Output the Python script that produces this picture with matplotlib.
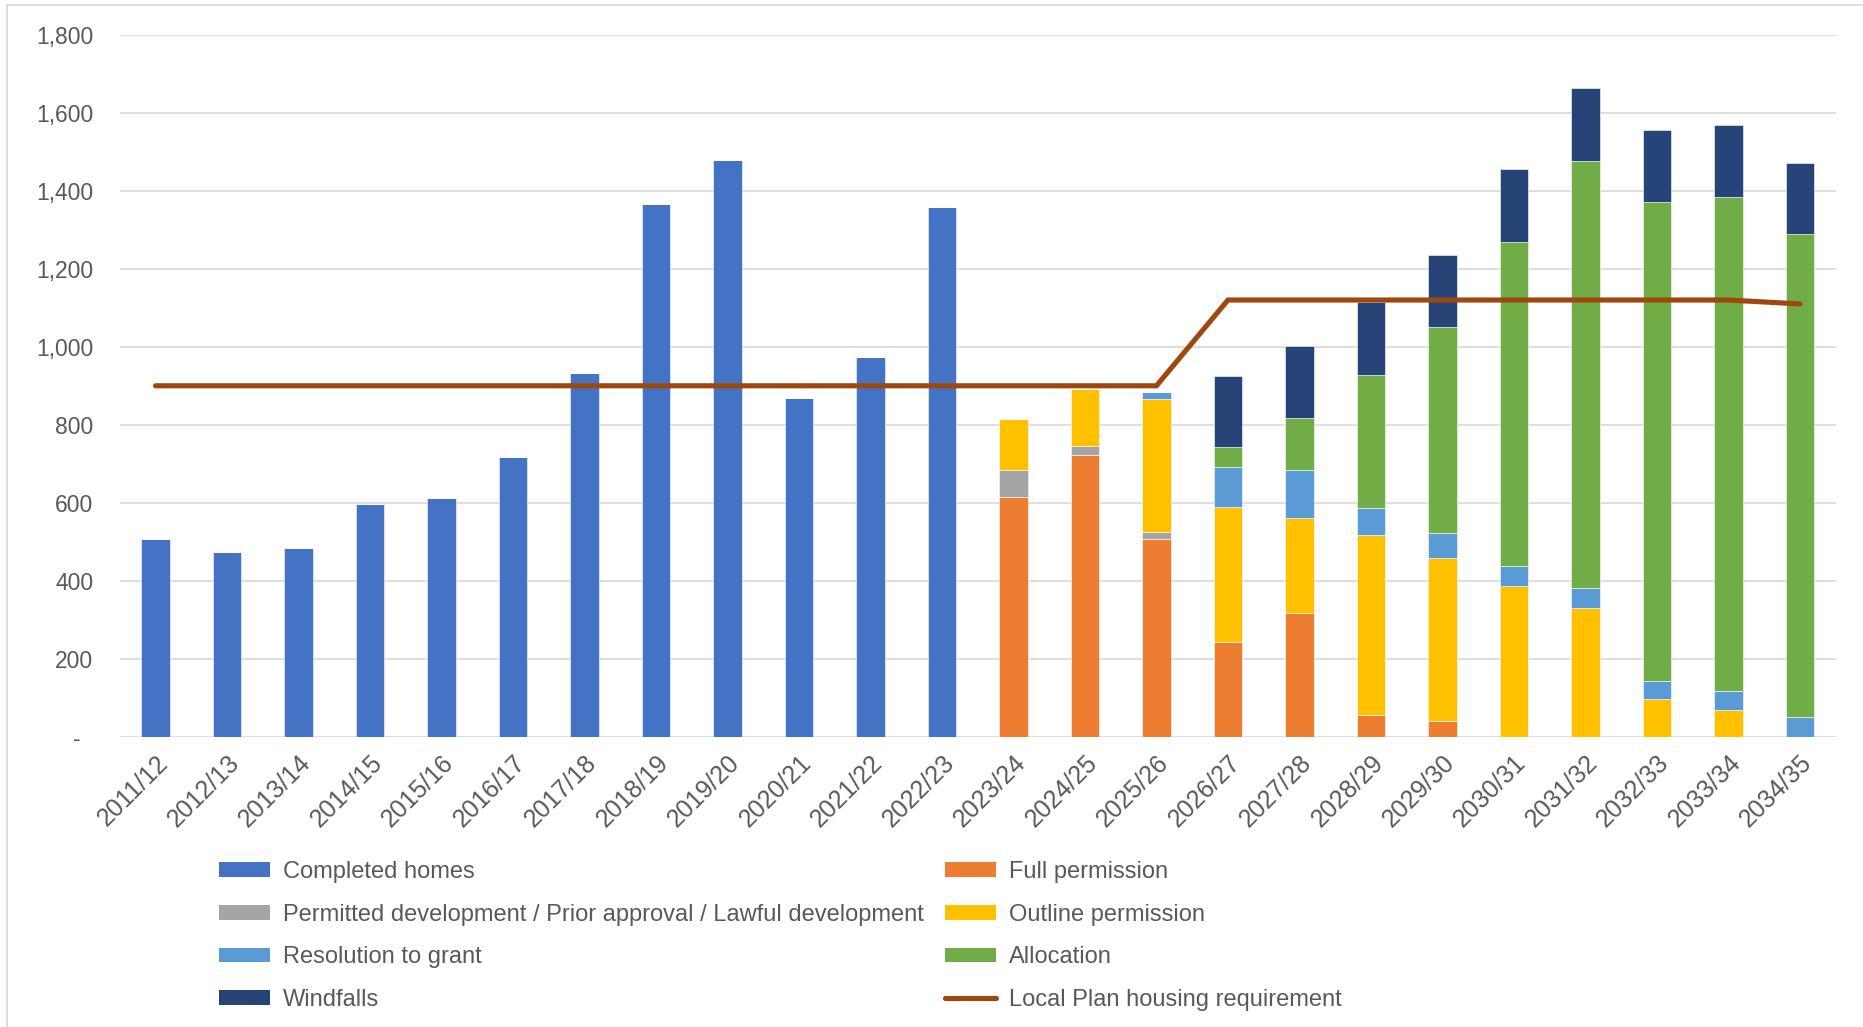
import matplotlib
matplotlib.use("Agg")
import matplotlib.pyplot as plt
from matplotlib.lines import Line2D
from matplotlib.patches import Patch
from matplotlib.ticker import FuncFormatter
import numpy as np

plt.rcParams["font.family"] = ["Liberation Sans", "DejaVu Sans"]

years = ["2011/12", "2012/13", "2013/14", "2014/15", "2015/16", "2016/17",
         "2017/18", "2018/19", "2019/20", "2020/21", "2021/22", "2022/23",
         "2023/24", "2024/25", "2025/26", "2026/27", "2027/28", "2028/29",
         "2029/30", "2030/31", "2031/32", "2032/33", "2033/34", "2034/35"]

completed = [506, 474, 483, 596, 611, 717, 932, 1367, 1480, 868, 975, 1358,
             0, 0, 0, 0, 0, 0, 0, 0, 0, 0, 0, 0]
full_perm = [0] * 12 + [615, 722, 506, 244, 318, 55, 40, 0, 0, 0, 0, 0]
permitted = [0] * 12 + [70, 24, 19, 0, 0, 0, 0, 0, 0, 0, 0, 0]
outline = [0] * 12 + [131, 146, 340, 344, 242, 463, 418, 387, 331, 96, 68, 0]
resolution = [0] * 12 + [0, 0, 19, 104, 123, 68, 65, 50, 51, 48, 49, 50]
allocation = [0] * 12 + [0, 0, 0, 50, 134, 341, 528, 832, 1095, 1227, 1267, 1240]
windfalls = [0] * 12 + [0, 0, 0, 184, 185, 188, 184, 186, 186, 185, 184, 182]
requirement = [900] * 15 + [1120] * 8 + [1110]

series = [
    ("Completed homes", completed, "#4472C4"),
    ("Full permission", full_perm, "#ED7D31"),
    ("Permitted development / Prior approval / Lawful development", permitted, "#A5A5A5"),
    ("Outline permission", outline, "#FFC000"),
    ("Resolution to grant", resolution, "#5B9BD5"),
    ("Allocation", allocation, "#70AD47"),
    ("Windfalls", windfalls, "#264478"),
]
LINE_C = "#9E480E"
TXT = "#595959"

fig = plt.figure(figsize=(18.63, 10.27), dpi=100)
ax = fig.add_axes([0.0643, 0.2827, 0.921, 0.6833])

x = np.arange(len(years))
base = np.zeros(len(years))
handles = {}
for label, vals, c in series:
    v = np.array(vals, dtype=float)
    ax.bar(x, v, width=0.40, bottom=base, color=c, edgecolor="white",
           linewidth=0.4, zorder=2)
    base += v
    handles[label] = Patch(facecolor=c, label=label)

ax.plot(x, requirement, color=LINE_C, linewidth=3.7, solid_capstyle="round",
        solid_joinstyle="miter", zorder=3)
handles["line"] = Line2D([], [], color=LINE_C, linewidth=3.7,
                         solid_capstyle="round", label="Local Plan housing requirement")

ax.set_xlim(-0.5, len(years) - 0.5)
ax.set_ylim(0, 1800)
ax.set_yticks(range(0, 1801, 200))
ax.yaxis.set_major_formatter(FuncFormatter(lambda v, p: "-  " if v == 0 else f"{v:,.0f}"))
ax.grid(axis="y", color="#d9d9d9", linewidth=1.2)
ax.set_axisbelow(True)
for s in ax.spines.values():
    s.set_visible(False)
ax.tick_params(axis="y", length=0, pad=19, labelsize=16.5, labelcolor=TXT)
ax.tick_params(axis="x", length=0, pad=10, labelsize=18, labelcolor=TXT)
ax.set_xticks(x)
ax.set_xticklabels(years, rotation=45, ha="right", va="top", rotation_mode="anchor")

order = ["Completed homes",
         "Permitted development / Prior approval / Lawful development",
         "Resolution to grant", "Windfalls",
         "Full permission", "Outline permission", "Allocation", "line"]
fig.legend(handles=[handles[k] for k in order], loc="upper left",
           bbox_to_anchor=(0.1174, 0.1614), ncol=2, frameon=False, fontsize=17,
           labelcolor=TXT, handlelength=2.16, handleheight=0.6, handletextpad=0.55,
           columnspacing=0.91, labelspacing=0.87, borderpad=0, borderaxespad=0)

# chart-area border (cropped in the source)
fig.add_artist(Line2D([0.0035, 0.0035], [0, 0.995], color="#d9d9d9", linewidth=1.2))
fig.add_artist(Line2D([0.0035, 1.0], [0.995, 0.995], color="#d9d9d9", linewidth=1.2))

fig.savefig("out.png", dpi=100)
